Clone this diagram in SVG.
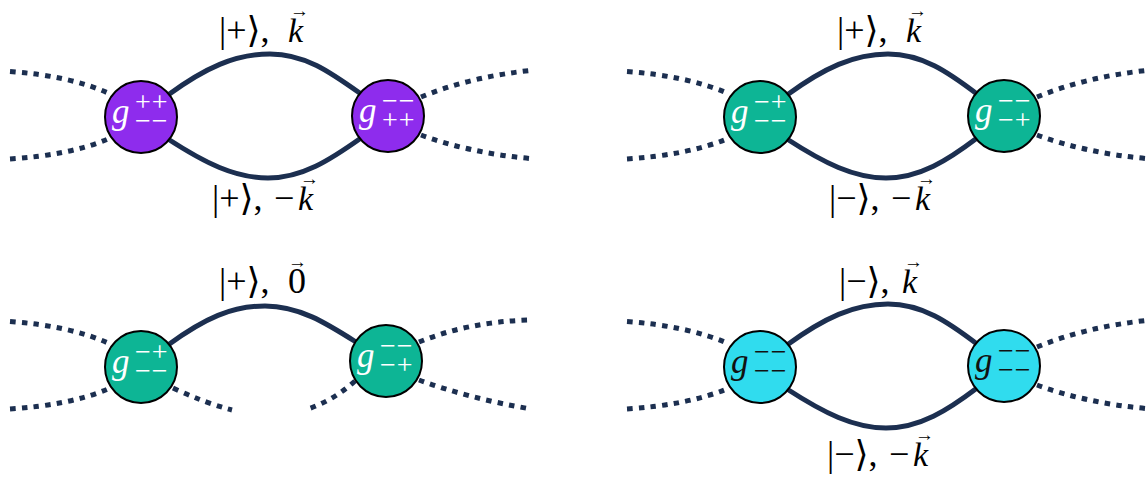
<svg xmlns="http://www.w3.org/2000/svg" width="1146" height="479" viewBox="0 0 1146 479">
<style>
.dash{fill:none;stroke:#1c2f50;stroke-width:5;stroke-dasharray:5.5 6.2}
.arc{fill:none;stroke:#1c2f50;stroke-width:5}
.nd{stroke:#000;stroke-width:2}
.purple{fill:#8e2ced}
.green{fill:#0db595}
.cyan{fill:#30dcee}
.lbl{font-family:"Liberation Serif","DejaVu Serif",serif;font-size:36px;fill:#000}
.it{font-style:italic;font-size:34px}
.vec{font-family:"Liberation Sans","DejaVu Sans",sans-serif;font-size:19px}
.gl{font-family:"Liberation Serif","DejaVu Serif",serif;fill:#fff}
.g{font-style:italic;font-size:35px}
.s{font-size:28px;letter-spacing:1px}
.dk .gl{fill:#111}
</style>
<g id="connectors">
<path class="dash" d="M10,71.5 Q70,76 108,93"/>
<path class="dash" d="M10,159 Q70,155 108,139"/>
<path class="dash" d="M421,97 Q470,77 530,70.5"/>
<path class="dash" d="M421,135 Q470,153 530,158.5"/>
<path class="arc" d="M168,95 C205,68 235,54 270,54 C305,54 330,72 361,94"/>
<path class="arc" d="M168,139 C205,163 235,178 268,178 C302,178 330,160 361,138"/>
<path class="dash" d="M627,71.5 Q687,76 727,93"/>
<path class="dash" d="M627,159 Q687,155 727,139"/>
<path class="dash" d="M1037,97 Q1086,77 1146,70.5"/>
<path class="dash" d="M1037,135 Q1086,153 1146,158.5"/>
<path class="arc" d="M787,95 C824,68 854,54 888,54 C922,54 948,72 977,94"/>
<path class="arc" d="M787,139 C824,163 854,178 886,178 C920,178 948,160 977,138"/>
<path class="dash" d="M10,321.5 Q70,326 108,343"/>
<path class="dash" d="M10,409 Q70,405 108,389"/>
<path class="dash" d="M173,388 Q205,403 232,410"/>
<path class="dash" d="M419,342 Q468,322 528,320"/>
<path class="dash" d="M419,380 Q468,398 528,408.5"/>
<path class="dash" d="M355,381 Q333,401 305,410"/>
<path class="arc" d="M168,345 C205,318 232,306 265,306 C299,306 326,323 356,342"/>
<path class="dash" d="M627,321.5 Q687,326 727,343"/>
<path class="dash" d="M627,409 Q687,405 727,389"/>
<path class="dash" d="M1037,347 Q1086,327 1146,320.5"/>
<path class="dash" d="M1037,385 Q1086,403 1146,408.5"/>
<path class="arc" d="M787,345 C824,318 854,304 888,304 C922,304 948,322 977,344"/>
<path class="arc" d="M787,389 C824,413 854,428 886,428 C920,428 948,410 977,388"/>
</g>
<g id="labels">
<text class="lbl" x="219" y="42">|+⟩,<tspan class="it" x="288">k</tspan><tspan class="vec" x="290" y="17">→</tspan></text>
<text class="lbl" x="212" y="210">|+⟩,<tspan x="274">−</tspan><tspan class="it" x="298">k</tspan><tspan class="vec" x="300" y="185">→</tspan></text>
<text class="lbl" x="837" y="42">|+⟩,<tspan class="it" x="906">k</tspan><tspan class="vec" x="908" y="17">→</tspan></text>
<text class="lbl" x="829" y="210">|−⟩,<tspan x="891">−</tspan><tspan class="it" x="915">k</tspan><tspan class="vec" x="917" y="185">→</tspan></text>
<text class="lbl" x="219" y="293">|+⟩,<tspan x="288">0</tspan><tspan class="vec" x="288" y="268">→</tspan></text>
<text class="lbl" x="839" y="293">|−⟩,<tspan class="it" x="902">k</tspan><tspan class="vec" x="904" y="268">→</tspan></text>
<text class="lbl" x="827" y="466">|−⟩,<tspan x="889">−</tspan><tspan class="it" x="913">k</tspan><tspan class="vec" x="915" y="441">→</tspan></text>
</g>
<g id="nodeA1"><circle class="nd purple" cx="141" cy="117" r="36"/><text class="gl"><tspan class="g" x="112" y="123">g</tspan><tspan class="s" x="135" y="111">++</tspan><tspan class="s" x="135" y="130">−−</tspan></text></g>
<g id="nodeA2"><circle class="nd purple" cx="388" cy="116" r="36"/><text class="gl"><tspan class="g" x="359" y="122">g</tspan><tspan class="s" x="382" y="110">−−</tspan><tspan class="s" x="382" y="129">++</tspan></text></g>
<g id="nodeB1"><circle class="nd green" cx="760" cy="117" r="36"/><text class="gl"><tspan class="g" x="731" y="123">g</tspan><tspan class="s" x="754" y="111">−+</tspan><tspan class="s" x="754" y="130">−−</tspan></text></g>
<g id="nodeB2"><circle class="nd green" cx="1004" cy="116" r="36"/><text class="gl"><tspan class="g" x="975" y="122">g</tspan><tspan class="s" x="998" y="110">−−</tspan><tspan class="s" x="998" y="129">−+</tspan></text></g>
<g id="nodeC1"><circle class="nd green" cx="141" cy="367" r="36"/><text class="gl"><tspan class="g" x="112" y="373">g</tspan><tspan class="s" x="135" y="361">−+</tspan><tspan class="s" x="135" y="380">−−</tspan></text></g>
<g id="nodeC2"><circle class="nd green" cx="386" cy="361" r="36"/><text class="gl"><tspan class="g" x="357" y="367">g</tspan><tspan class="s" x="380" y="355">−−</tspan><tspan class="s" x="380" y="374">−+</tspan></text></g>
<g id="nodeD1" class="dk"><circle class="nd cyan" cx="760" cy="367" r="36"/><text class="gl"><tspan class="g" x="731" y="373">g</tspan><tspan class="s" x="754" y="361">−−</tspan><tspan class="s" x="754" y="380">−−</tspan></text></g>
<g id="nodeD2" class="dk"><circle class="nd cyan" cx="1004" cy="366" r="36"/><text class="gl"><tspan class="g" x="975" y="372">g</tspan><tspan class="s" x="998" y="360">−−</tspan><tspan class="s" x="998" y="379">−−</tspan></text></g>
</svg>
